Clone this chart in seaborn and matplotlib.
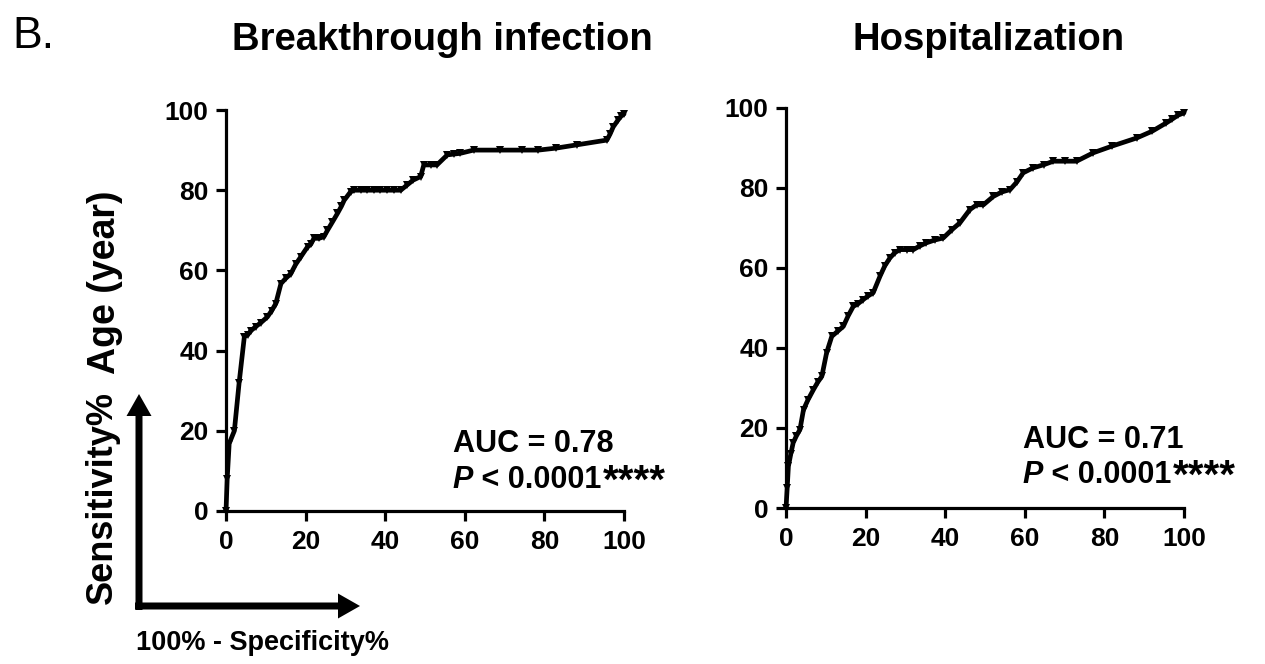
import matplotlib
matplotlib.use("Agg")
import matplotlib.pyplot as plt
import seaborn as sns
import numpy as np

# ---- data ----
titles = ["Breakthrough infection", "Hospitalization"]
auc_labels = ["AUC = 0.78", "AUC = 0.71"]
p_label = " < 0.0001"
stars = "****"
ticks = [0, 20, 40, 60, 80, 100]

bt_x = [0, 0.3, 0.8, 2.1, 3.3, 4.6, 5.5, 6.3, 7.5, 8.8, 10.4, 11.5, 12.5, 13.8, 15.0,
        16.3, 17.5, 18.8, 20.5, 21.3, 22.1, 23.4, 24.6, 25.5, 26.7, 28.0, 29.0, 29.7, 31.3, 32.2,
        33.8, 35.5, 37.1, 38.8, 40.4, 42.1, 43.9, 45.5, 47.0, 48.9, 49.7, 51.4, 53.0, 55.6, 57.2,
        58.9, 62.2, 68.9, 74.4, 78.5, 83.0, 88.1, 95.7, 96.5, 97.3, 98.5, 99.3, 100]
bt_y = [0, 8, 16.8, 20, 32, 43.4, 44, 45, 46, 47, 48.4, 50, 51.7, 56.7, 58,
        59.2, 61.5, 63.4, 65.9, 66.5, 68, 68, 68.4, 70, 72, 74.2, 76, 77.5, 79.6, 80,
        80, 80, 80, 80, 80, 80, 80, 81.3, 82.5, 83.4, 86.3, 86.3, 86.3, 88.8, 89,
        89.2, 90, 90, 90, 90, 90.5, 91.3, 92.5, 94, 95.8, 97.5, 98.5, 99]

ho_x = [0, 0.3, 0.6, 1.2, 1.8, 2.6, 3.5, 4.4, 5.5, 6.9, 8.0, 9.0, 10.2, 11.5, 13.0,
        14.4, 15.6, 16.9, 18.0, 19.4, 20.6, 21.9, 23.6, 24.8, 26.1, 27.3, 28.6, 30.3, 32.0, 33.6,
        35.3, 37.4, 39.5, 41.6, 43.7, 46.2, 47.9, 49.6, 52.1, 54.2, 56.3, 58.0, 59.6, 62.0, 64.7,
        67.2, 70.0, 73.0, 77.2, 82.0, 88.1, 92.0, 95.6, 97.0, 98.5, 100]
ho_y = [0, 5, 10.4, 13.5, 16.3, 18, 19.6, 24.6, 27, 29.6, 31.5, 32.9, 38.8, 42.9, 44.2,
        45.4, 48, 50.4, 51, 52.1, 53, 53.8, 57.9, 60.5, 62.5, 63.8, 64.6, 64.6, 64.6, 65.5,
        66.3, 67, 67.5, 69.5, 71.3, 74.6, 75.8, 75.8, 77.9, 79, 79.6, 81.5, 83.8, 85, 85.8,
        86.7, 86.7, 86.7, 88.8, 90.5, 92.5, 94.2, 96.3, 97.2, 98.2, 98.8]

series = [(bt_x, bt_y), (ho_x, ho_y)]

# ---- style ----
sns.set_style("ticks")
plt.rcParams["font.family"] = ["Liberation Sans", "DejaVu Sans"]
plt.rcParams["text.color"] = "black"
plt.rcParams["xtick.color"] = "black"
plt.rcParams["ytick.color"] = "black"
plt.rcParams["xtick.labelcolor"] = "black"
plt.rcParams["ytick.labelcolor"] = "black"
plt.rcParams["axes.edgecolor"] = "black"

W, H = 1265, 664
fig = plt.figure(figsize=(W / 100, H / 100), dpi=100)

# overlay axes in pixel coordinates for free text and arrows
ov = fig.add_axes([0, 0, 1, 1], zorder=0)
ov.set_xlim(0, W)
ov.set_ylim(H, 0)
ov.axis("off")

axes_px = [(226, 624, 511, 110), (786, 1184, 508, 108)]
text_pos = [((57.0, 14.7), (57.0, 5.7)), ((59.5, 15.0), (59.5, 6.2))]
title_x = [442, 989]

for i, ((xs, ys), (x0, x1, yb, yt)) in enumerate(zip(series, axes_px)):
    ax = fig.add_axes([x0 / W, 1 - yb / H, (x1 - x0) / W, (yb - yt) / H], zorder=2)
    ax.patch.set_alpha(0)
    sns.lineplot(x=xs, y=ys, ax=ax, color="black", linewidth=3.4, sort=False,
                 estimator=None, marker="v", markersize=5.5, markeredgewidth=0,
                 clip_on=False)
    ax.set_xlim(0, 100)
    ax.set_ylim(0, 100)
    ax.set_xticks(ticks)
    ax.set_yticks(ticks)
    ax.set_xticklabels([str(t) for t in ticks], fontsize=19, fontweight="bold")
    ax.set_yticklabels([str(t) for t in ticks], fontsize=19, fontweight="bold")
    sns.despine(ax=ax)
    for s in ("left", "bottom"):
        ax.spines[s].set_linewidth(2.3)
        ax.spines[s].set_color("black")
    ax.tick_params(axis="both", length=7.5, width=2.3, color="black", direction="out")
    ax.tick_params(axis="x", pad=6)
    ax.tick_params(axis="y", pad=5)
    ax.set_xlabel("")
    ax.set_ylabel("")

    (ax_x, ax_y), (px, py) = text_pos[i]
    ax.text(ax_x, ax_y, auc_labels[i], fontsize=22, fontweight="bold",
            ha="left", va="baseline", color="black")
    pt = ax.text(px, py, "P", fontsize=22, fontweight="bold", style="italic",
                 ha="left", va="baseline", color="black")
    nt = ax.annotate(p_label, xy=(1, 0), xycoords=pt, fontsize=22,
                     fontweight="bold", ha="left", va="bottom", color="black")
    ax.annotate(stars, xy=(1, 0), xycoords=nt, xytext=(1, -4),
                textcoords="offset points", fontsize=29, fontweight="bold",
                ha="left", va="bottom", annotation_clip=False, color="black")

    ov.text(title_x[i], 50, titles[i], fontsize=27.5,
            fontweight="bold", ha="center", va="baseline", color="black")

# panel letter
ov.text(12, 48, "B.", fontsize=32, ha="left", va="baseline", color="black")

# axis-style labels
ov.text(105, 282, "Age (year)", fontsize=27, fontweight="bold", rotation=90,
        ha="center", va="center", color="black")
ov.text(102, 498, "Sensitivity%", fontsize=26, fontweight="bold", rotation=90,
        ha="center", va="center", color="black")
ov.text(136, 630, "100% - Specificity%", fontsize=19.5, fontweight="bold",
        ha="left", va="top", color="black")

# L-shaped arrows
ov.arrow(139, 610, 0, -216, width=7, head_width=25, head_length=22,
         length_includes_head=True, color="black", linewidth=0)
ov.arrow(135, 606, 225, 0, width=7, head_width=25, head_length=22,
         length_includes_head=True, color="black", linewidth=0)

fig.savefig("out.png", dpi=100)
